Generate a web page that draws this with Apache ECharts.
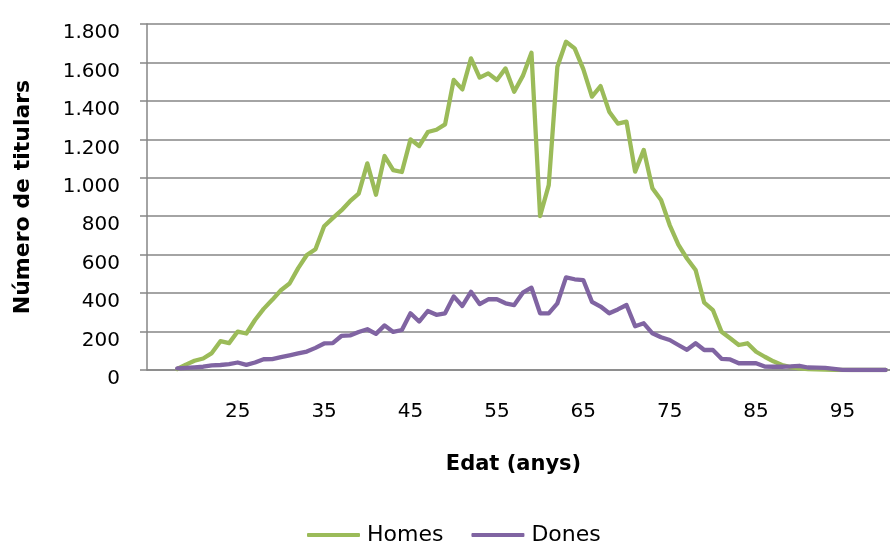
<!DOCTYPE html>
<html><head><meta charset="utf-8">
<script src="https://cdn.jsdelivr.net/npm/echarts@6/dist/echarts.min.js"></script>
<style>html,body{margin:0;padding:0;background:#fff}#c{width:890px;height:545px}</style>
</head><body><div id="c"></div>
<script>
const ages = [15,16,17,18,19,20,21,22,23,24,25,26,27,28,29,30,31,32,33,34,35,36,37,38,39,40,41,42,43,44,45,46,47,48,49,50,51,52,53,54,55,56,57,58,59,60,61,62,63,64,65,66,67,68,69,70,71,72,73,74,75,76,77,78,79,80,81,82,83,84,85,86,87,88,89,90,91,92,93,94,95,96,97,98,99,100];
const homes = [null,null,null,
  5,28,48,60,88,150,140,200,190,260,
  318,365,415,450,530,598,628,748,790,830,
  878,918,1075,912,1113,1040,1030,1200,1165,1238,
  1250,1278,1509,1460,1621,1521,1543,1509,1569,1448,
  1530,1651,801,962,1578,1708,1673,1565,1422,1477,
  1344,1282,1292,1032,1145,946,884,754,652,580,
  520,350,312,199,165,130,139,95,69,45,
  26,15,8,5,3,2,1,0,0,0,
  0,0,0];
const dones = [null,null,null,
  8,11,14,17,24,26,31,39,27,39,
  56,57,67,76,86,96,115,138,140,177,
  180,198,212,188,232,198,208,295,252,307,
  287,295,383,333,407,343,368,368,347,338,
  402,428,295,295,347,482,472,468,355,330,
  295,315,338,228,243,191,170,156,130,105,
  139,104,104,58,55,35,35,35,18,17,
  17,19,22,13,12,11,6,1,0,0,
  0,0,0];
const seriesNames = ['Homes','Dones'];
const xTitle = 'Edat (anys)';
const yTitle = 'Número de titulars';

const FONT = 'DejaVu Sans';
const GRAY = '#868686';
const chart = echarts.init(document.getElementById('c'), null, {renderer:'canvas'});
const fmt = v => '{a|' + (v >= 1000 ? Math.floor(v/1000) + '.' + String(v % 1000).padStart(3,'0') : String(v)) + '}';
chart.setOption({
  animation: false,
  backgroundColor: '#fff',
  grid: {left: 147, top: 24, bottom: 175, right: -22.4, containLabel: false},
  legend: {
    data: seriesNames, left: 302, top: 519, icon: 'roundRect',
    itemWidth: 53, itemHeight: 4, itemGap: 28,
    textStyle: {fontFamily: FONT, fontSize: 22, color: '#000', padding: [0,0,0,2]}
  },
  xAxis: {
    type: 'category', data: ages.map(String), boundaryGap: true,
    name: xTitle, nameLocation: 'middle', nameGap: 84,
    nameTextStyle: {fontFamily: FONT, fontSize: 21, fontWeight: 'bold', color: '#000', padding: [0,10,0,0]},
    axisLine: {lineStyle: {color: GRAY, width: 1.5}},
    axisTick: {length: 7, lineStyle: {color: GRAY, width: 1.5}, interval: (i) => i % 10 === 0},
    axisLabel: {interval: (i) => i >= 10 && i % 10 === 0, margin: 32, fontFamily: FONT, fontSize: 20, color: '#000'},
    splitLine: {show: false}
  },
  yAxis: {
    type: 'value', min: 0, max: 1800, interval: 200,
    name: yTitle, nameLocation: 'middle', nameGap: 113,
    nameTextStyle: {fontFamily: FONT, fontSize: 22, fontWeight: 'bold', color: '#000'},
    axisLine: {show: true, lineStyle: {color: GRAY, width: 1.5}},
    axisTick: {show: true, length: 7, lineStyle: {color: GRAY, width: 1.5}},
    axisLabel: {formatter: fmt, margin: 27,
      rich: {a: {fontFamily: FONT, fontSize: 20, color: '#000', padding: [18,0,0,0]}}},
    splitLine: {lineStyle: {color: GRAY, width: 1.5}}
  },
  series: [
    {name: seriesNames[0], type: 'line', data: homes, showSymbol: false, symbol: 'none', color: '#9BBB59',
     lineStyle: {width: 4.3, color: '#9BBB59', cap: 'round', join: 'round'}},
    {name: seriesNames[1], type: 'line', data: dones, showSymbol: false, symbol: 'none', color: '#8064A2',
     lineStyle: {width: 4.3, color: '#8064A2', cap: 'round', join: 'round'}}
  ]
});
</script></body></html>
